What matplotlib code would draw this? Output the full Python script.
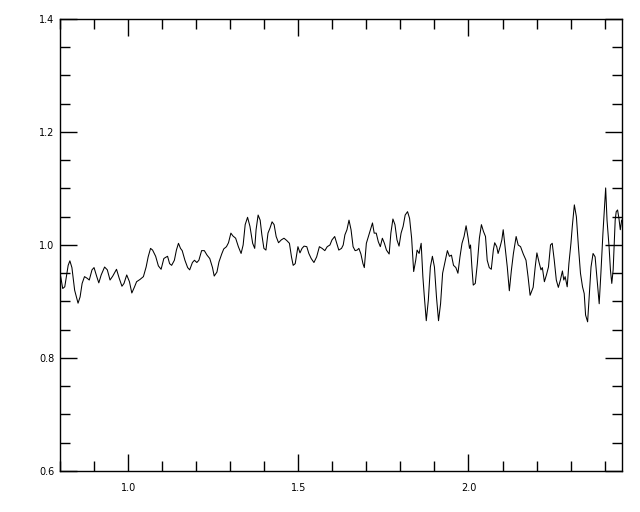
import numpy as np
import matplotlib
matplotlib.use("Agg")
import matplotlib.pyplot as plt
from matplotlib.ticker import MultipleLocator, FixedLocator

# wavelength
wave = [0.802, 0.808, 0.814, 0.824, 0.829, 0.835, 0.843, 0.853, 0.859, 0.865,
        0.872, 0.880, 0.886, 0.894, 0.900, 0.908, 0.914, 0.921, 0.931, 0.939,
        0.947, 0.955, 0.966, 0.974, 0.982, 0.988, 0.996, 1.004, 1.011, 1.019,
        1.025, 1.035, 1.045, 1.053, 1.059, 1.066, 1.072,
        1.081, 1.089, 1.097, 1.105, 1.110, 1.116, 1.122, 1.128, 1.136, 1.142,
        1.148, 1.154, 1.159, 1.167, 1.175, 1.181, 1.189, 1.195, 1.202, 1.208,
        1.216, 1.224, 1.232, 1.240, 1.248, 1.253, 1.261, 1.267, 1.275, 1.281,
        1.289, 1.295, 1.302, 1.308, 1.316, 1.324, 1.332, 1.338, 1.344, 1.351,
        1.358, 1.366, 1.372, 1.376, 1.382, 1.388, 1.393, 1.399, 1.405, 1.411,
        1.417, 1.423, 1.429, 1.435, 1.442, 1.450, 1.458, 1.466, 1.474, 1.480,
        1.485, 1.491, 1.499, 1.505, 1.511, 1.517, 1.525, 1.531, 1.538, 1.546,
        1.554, 1.562, 1.570, 1.578, 1.585, 1.593, 1.599, 1.607, 1.613, 1.619,
        1.627, 1.632,
        1.637, 1.643, 1.649, 1.655, 1.661, 1.667, 1.673, 1.678, 1.684, 1.690,
        1.694, 1.700, 1.706, 1.712, 1.718, 1.723, 1.729, 1.735, 1.741, 1.747,
        1.753, 1.759, 1.767, 1.772, 1.778, 1.784, 1.790, 1.796, 1.802, 1.808,
        1.814, 1.821, 1.827, 1.833, 1.839, 1.845, 1.849, 1.855, 1.861, 1.866,
        1.870, 1.876, 1.882, 1.888, 1.894, 1.900, 1.906, 1.912,
        1.918, 1.924, 1.930, 1.938, 1.944, 1.950, 1.956, 1.963, 1.969, 1.975,
        1.981, 1.987, 1.993, 1.999, 2.003, 2.006, 2.010, 2.014, 2.020, 2.026,
        2.032, 2.038, 2.044, 2.050, 2.055, 2.061, 2.067, 2.073, 2.077, 2.083,
        2.087, 2.093, 2.098, 2.102, 2.108, 2.114, 2.120, 2.126, 2.132, 2.140,
        2.146, 2.153, 2.161, 2.169, 2.175, 2.181, 2.187,
        2.190, 2.196, 2.201, 2.207, 2.213, 2.217, 2.223, 2.229, 2.235, 2.241,
        2.246, 2.252, 2.258, 2.264, 2.270, 2.276, 2.280, 2.284, 2.290, 2.295,
        2.301, 2.305, 2.311, 2.317, 2.323, 2.329, 2.335, 2.340, 2.344, 2.350,
        2.354, 2.360, 2.366, 2.372, 2.378, 2.384, 2.389, 2.395, 2.399, 2.403,
        2.407, 2.413, 2.417, 2.421, 2.425, 2.431, 2.434, 2.438, 2.442, 2.446,
        2.450]

# normalised flux
flux = [0.944, 0.923, 0.926, 0.964, 0.972, 0.960, 0.920, 0.897, 0.908, 0.932,
        0.944, 0.941, 0.938, 0.956, 0.960, 0.944, 0.933, 0.947, 0.961, 0.956,
        0.938, 0.945, 0.957, 0.941, 0.927, 0.932, 0.947, 0.935, 0.915, 0.926,
        0.935, 0.939, 0.944, 0.961, 0.979, 0.994, 0.991,
        0.980, 0.963, 0.957, 0.976, 0.978, 0.980, 0.967, 0.964, 0.973, 0.991,
        1.003, 0.994, 0.990, 0.973, 0.960, 0.956, 0.969, 0.973, 0.969, 0.973,
        0.990, 0.990, 0.982, 0.976, 0.960, 0.945, 0.952, 0.970, 0.984, 0.993,
        0.997, 1.004, 1.021, 1.016, 1.012, 0.997, 0.985, 1.000, 1.036, 1.049,
        1.033, 1.003, 0.994, 1.027, 1.053, 1.044, 1.018, 0.994, 0.991, 1.021,
        1.030, 1.041, 1.036, 1.015, 1.004, 1.009, 1.012, 1.008, 1.003, 0.979,
        0.964, 0.967, 0.997, 0.986, 0.994, 0.998, 0.997, 0.985, 0.976, 0.969,
        0.979, 0.997, 0.994, 0.990, 0.997, 1.000, 1.009, 1.015, 1.003, 0.991,
        0.994, 1.000,
        1.018, 1.027, 1.044, 1.027, 0.997, 0.990, 0.991, 0.994, 0.984, 0.967,
        0.960, 1.003, 1.015, 1.027, 1.039, 1.021, 1.021, 1.006, 0.997, 1.012,
        1.003, 0.991, 0.984, 1.021, 1.046, 1.036, 1.009, 0.998, 1.021, 1.033,
        1.053, 1.059, 1.047, 1.012, 0.953, 0.973, 0.991, 0.985, 1.003, 0.944,
        0.911, 0.866, 0.902, 0.961, 0.980, 0.961, 0.908, 0.866,
        0.896, 0.950, 0.967, 0.990, 0.980, 0.982, 0.964, 0.960, 0.950, 0.979,
        1.003, 1.015, 1.034, 1.012, 0.994, 1.000, 0.961, 0.929, 0.932, 0.967,
        1.012, 1.036, 1.024, 1.015, 0.973, 0.960, 0.957, 0.991, 1.004, 0.997,
        0.985, 0.997, 1.009, 1.027, 0.994, 0.961, 0.919, 0.955, 0.985, 1.015,
        1.000, 0.997, 0.984, 0.973, 0.944, 0.911, 0.920,
        0.925, 0.961, 0.986, 0.970, 0.956, 0.960, 0.935, 0.947, 0.961, 1.000,
        1.003, 0.973, 0.938, 0.925, 0.938, 0.954, 0.938, 0.944, 0.926, 0.967,
        1.003, 1.033, 1.071, 1.050, 0.997, 0.950, 0.926, 0.914, 0.876, 0.864,
        0.902, 0.961, 0.985, 0.979, 0.938, 0.896, 0.950, 1.021, 1.062, 1.101,
        1.044, 0.997, 0.956, 0.932, 0.956, 1.044, 1.059, 1.062, 1.047, 1.027,
        1.044]

fig = plt.figure(figsize=(6.4, 5.12), dpi=100)
ax = fig.add_axes([0.09375, 0.0801, 0.878125, 0.8828])

ax.plot(wave, flux, color='black', lw=0.75)

ax.set_xlim(0.8, 2.451)
ax.set_ylim(0.6, 1.4)

ax.xaxis.set_major_locator(FixedLocator([1.0, 1.5, 2.0]))
ax.xaxis.set_minor_locator(MultipleLocator(0.1))
ax.yaxis.set_major_locator(MultipleLocator(0.2))
ax.yaxis.set_minor_locator(MultipleLocator(0.05))

ax.tick_params(which='both', direction='in', top=True, right=True,
               width=1, colors='black', labelsize=7)
ax.tick_params(which='major', length=12)
ax.tick_params(which='minor', length=7)
ax.tick_params(axis='x', which='major', pad=9)
ax.tick_params(axis='y', which='major', pad=4)

ax.xaxis.set_major_formatter(plt.FuncFormatter(lambda v, p: "%.1f" % v))
ax.yaxis.set_major_formatter(plt.FuncFormatter(lambda v, p: "%.1f" % v))

for s in ax.spines.values():
    s.set_linewidth(1)

fig.savefig("out.png", dpi=100)
